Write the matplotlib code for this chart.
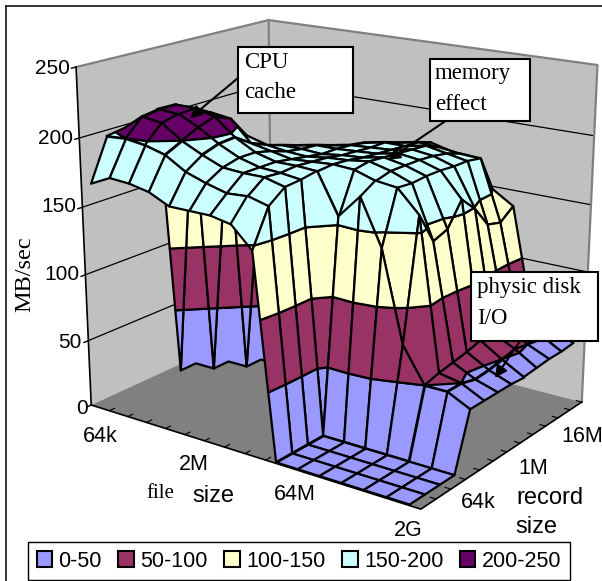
import numpy as np
import matplotlib
matplotlib.use('Agg')
import matplotlib.pyplot as plt
from matplotlib.patches import Patch, Rectangle
from mpl_toolkits.mplot3d.art3d import Poly3DCollection

file_labels = ['64k', '2M', '64M', '2G']
record_labels = ['64k', '1M', '16M']
value_ticks = [0, 50, 100, 150, 200, 250]
band_names = ['0-50', '50-100', '100-150', '150-200', '200-250']
band_colors = ['#9999FF', '#993366', '#FFFFCC', '#CCFFFF', '#660066']

# MB/sec, one list per file size, record size goes 4k .. 16M
mbsec = [
    [169, 199, 201, 206, 208, 0, 0, 0, 0, 0, 0, 0, 0],
    [176, 200, 212, 214, 214, 206, 0, 0, 0, 0, 0, 0, 0],
    [175, 198, 210, 213, 214, 207, 192, 0, 0, 0, 0, 0, 0],
    [172, 194, 200, 206, 210, 205, 189, 178, 0, 0, 0, 0, 0],
    [165, 185, 193, 197, 198, 190, 185, 181, 177, 0, 0, 0, 0],
    [165, 180, 187, 190, 190, 187, 183, 181, 180, 176, 0, 0, 0],
    [165, 176, 186, 186, 186, 184, 182, 180, 180, 179, 177, 0, 0],
    [162, 177, 186, 185, 186, 185, 184, 182, 181, 180, 180, 176, 0],
    [147, 173, 182, 183, 185, 186, 185, 183, 182, 181, 180, 179, 175],
    [1, 1, 1, 1, 156, 185, 187, 186, 185, 184, 183, 178, 171],
    [1, 1, 1, 1, 173, 180, 183, 183, 183, 182, 180, 176, 168],
    [1, 1, 1, 1, 140, 178, 177, 178, 178, 177, 177, 175, 148],
    [1, 1, 1, 1, 75, 162, 139, 143, 160, 149, 133, 130, 138],
    [1, 1, 1, 1, 50, 53, 55, 57, 60, 60, 60, 60, 60],
    [1, 1, 1, 1, 50, 50, 47, 48, 50, 52, 50, 52, 50],
    [1, 1, 1, 1, 42, 42, 42, 42, 41, 42, 43, 43, 44],
]

W, H = 602, 581
XMIN, XMAX, YMIN, YMAX, ZMAX = -0.5, 15.5, 0, 12, 250

fig = plt.figure(figsize=(W / 100, H / 100), dpi=100)
ax = fig.add_axes([0, 0, 1, 1], projection='3d')
ax.apply_aspect = lambda position=None: None
ax.set_axis_off()
ax.computed_zorder = False

# corners of the box as they sit in the picture
corners = [
    ((XMIN, YMIN, 0), (93, 407)),
    ((XMAX, YMIN, 0), (420, 508)),
    ((XMAX, YMAX, 0), (583, 403)),
    ((XMIN, YMAX, 0), (270, 320)),
    ((XMIN, YMIN, ZMAX), (75, 66)),
    ((XMAX, YMAX, ZMAX), (597, 65)),
    ((XMIN, YMAX, ZMAX), (270, 21)),
]
A, b = [], []
inv = ax.transData.inverted()
for (x, y, z), (px, py) in corners:
    u, v = inv.transform((px, H - py))
    A.append([x, y, z, 1, 0, 0, 0, 0, -u * x, -u * y, -u * z])
    b.append(u)
    A.append([0, 0, 0, 0, x, y, z, 1, -v * x, -v * y, -v * z])
    b.append(v)
m = np.linalg.lstsq(np.array(A), np.array(b), rcond=None)[0]
M = np.array([m[:4], m[4:8], [0, 0, 0, -1], [m[8], m[9], m[10], 1]])
ax.get_proj = lambda: M
ax.set_xlim(XMIN, XMAX)
ax.set_ylim(YMIN, YMAX)
ax.set_zlim(0, ZMAX)


def clip(poly, level, keep_above):
    out = []
    for k in range(len(poly)):
        p, q = poly[k], poly[(k + 1) % len(poly)]
        p_in = p[2] >= level if keep_above else p[2] <= level
        q_in = q[2] >= level if keep_above else q[2] <= level
        if p_in:
            out.append(p)
        if p_in != q_in:
            t = (level - p[2]) / (q[2] - p[2])
            out.append((p[0] + t * (q[0] - p[0]), p[1] + t * (q[1] - p[1]), level))
    return out


# walls and floor
wall_kw = dict(linewidths=0, zorder=1)
ax.add_collection3d(Poly3DCollection([[(XMIN, YMIN, 0), (XMIN, YMAX, 0), (XMIN, YMAX, ZMAX), (XMIN, YMIN, ZMAX)]],
                                     facecolors='#C0C0C0', **wall_kw))
ax.add_collection3d(Poly3DCollection([[(XMIN, YMAX, 0), (XMAX, YMAX, 0), (XMAX, YMAX, ZMAX), (XMIN, YMAX, ZMAX)]],
                                     facecolors='#C0C0C0', **wall_kw))
ax.add_collection3d(Poly3DCollection([[(XMIN, YMIN, 0), (XMAX, YMIN, 0), (XMAX, YMAX, 0), (XMIN, YMAX, 0)]],
                                     facecolors='#808080', **wall_kw))
for v in value_ticks[1:-1]:
    ax.plot([XMIN, XMIN, XMAX], [YMIN, YMAX, YMAX], [v, v, v], color='k', lw=0.9, zorder=2)
ax.plot([XMIN, XMIN, XMAX, XMAX], [YMIN, YMAX, YMAX, YMAX], [ZMAX, ZMAX, ZMAX, 0], color='#808080', lw=1.6, zorder=2)
ax.plot([XMIN, XMIN], [YMAX, YMAX], [0, ZMAX], color='#808080', lw=1.6, zorder=2)
ax.plot([XMIN, XMIN], [YMIN, YMIN], [0, ZMAX], color='k', lw=1.2, zorder=3)
ax.plot([XMIN, XMAX, XMAX], [YMIN, YMIN, YMAX], [0, 0, 0], color='k', lw=1.2, zorder=3)
for v in value_ticks:
    ax.plot([XMIN, XMIN], [YMIN, YMIN - 0.25], [v, v], color='k', lw=1, zorder=3)
for k in range(1, 16):
    ax.plot([XMIN + k, XMIN + k], [YMIN, YMIN + 0.3], [0, 0], color='k', lw=0.8, zorder=3)
for k in range(1, 13):
    ax.plot([XMAX, XMAX - 0.25], [k, k], [0, 0], color='k', lw=0.8, zorder=3)

# surface, painted back to front, each cell cut up by the value bands
Z = np.array(mbsec, dtype=float)
order = 10
for i in range(Z.shape[0] - 1):
    for j in range(Z.shape[1] - 2, -1, -1):
        quad = [(i, j, Z[i, j]), (i + 1, j, Z[i + 1, j]), (i + 1, j + 1, Z[i + 1, j + 1]), (i, j + 1, Z[i, j + 1])]
        if max(q[2] for q in quad) == 0:
            continue
        polys, cols = [], []
        for n, c in enumerate(band_colors):
            lo, hi = n * 50, (n + 1) * 50
            part = clip(clip(quad, lo, True), hi, False)
            if len(part) >= 3 and (max(q[2] for q in part) > lo or lo == 0):
                polys.append(part)
                cols.append(c)
        ax.add_collection3d(Poly3DCollection(polys, facecolors=cols, edgecolors='k', linewidths=1.6, zorder=order))
        order += 1

# flat layer on top in picture pixels, for the text and boxes
top = fig.add_axes([0, 0, 1, 1], facecolor='none')
top.set_xlim(0, W)
top.set_ylim(H, 0)
top.set_axis_off()

sans = 'Liberation Sans'
serif = 'Liberation Serif'
top.plot([6, 6], [6, H], color='k', lw=1.1)
top.plot([6, W], [6, 6], color='k', lw=1.1)

for v, (x, y) in zip(value_ticks, [(88, 409), (82, 342), (79, 274), (76, 207), (73, 138), (70, 69)]):
    top.text(x, y, str(v), ha='right', va='center', family=sans, fontsize=15)
for t, (x, y) in zip(file_labels, [(100, 436), (194, 465), (295, 495), (408, 530)]):
    top.text(x, y, t, ha='center', va='center', family=sans, fontsize=15.5)
for t, (x, y) in zip(record_labels, [(478, 503), (533, 468), (582, 437)]):
    top.text(x, y, t, ha='center', va='center', family=sans, fontsize=15.5)
top.text(160, 493, 'file', ha='center', va='center', family=serif, fontsize=15)
top.text(213, 496, 'size', ha='center', va='center', family=sans, fontsize=17)
top.text(550, 498, 'record', ha='center', va='center', family=sans, fontsize=17)
top.text(536, 527, 'size', ha='center', va='center', family=sans, fontsize=17)
top.text(25, 274, 'MB/sec', rotation=90, ha='center', va='center', family=serif, fontsize=17.5)

callouts = [
    ((238, 47, 115, 66), ['CPU', 'cache'], (244, 62), (238, 78), (190, 118)),
    ((430, 59, 100, 62), ['memory', 'effect'], (435, 74), (447, 120), (388, 160)),
    ((471, 272, 127, 69), ['physic disk', 'I/O'], (477, 287), (520, 341), (495, 378)),
]
for (x, y, w, h), lines, (tx, ty), start, tip in callouts:
    top.annotate('', xy=tip, xytext=start, arrowprops=dict(arrowstyle='-|>', color='k', lw=1.5, mutation_scale=18, shrinkA=0, shrinkB=0))
    top.add_patch(Rectangle((x, y), w, h, facecolor='w', edgecolor='k', lw=1.5, zorder=5))
    for n, t in enumerate(lines):
        top.text(tx, ty + n * 31, t, ha='left', va='center', family=serif, fontsize=16.5, zorder=6)

handles = [Patch(facecolor=c, edgecolor='k', lw=1.5, label=n) for c, n in zip(band_colors, band_names)]
leg = top.legend(handles=handles, ncol=5, loc='upper left', bbox_to_anchor=(28 / W, 1 - 542 / H, 542 / W, 0),
                 bbox_transform=fig.transFigure, mode='expand', fancybox=False, framealpha=1, edgecolor='k',
                 prop=dict(family=sans, size=15.5), borderaxespad=0, borderpad=0.4, handlelength=0.72, handleheight=0.72,
                 handletextpad=0.3, columnspacing=0.4)
leg.get_frame().set_linewidth(1)

fig.savefig('out.png', dpi=100)
